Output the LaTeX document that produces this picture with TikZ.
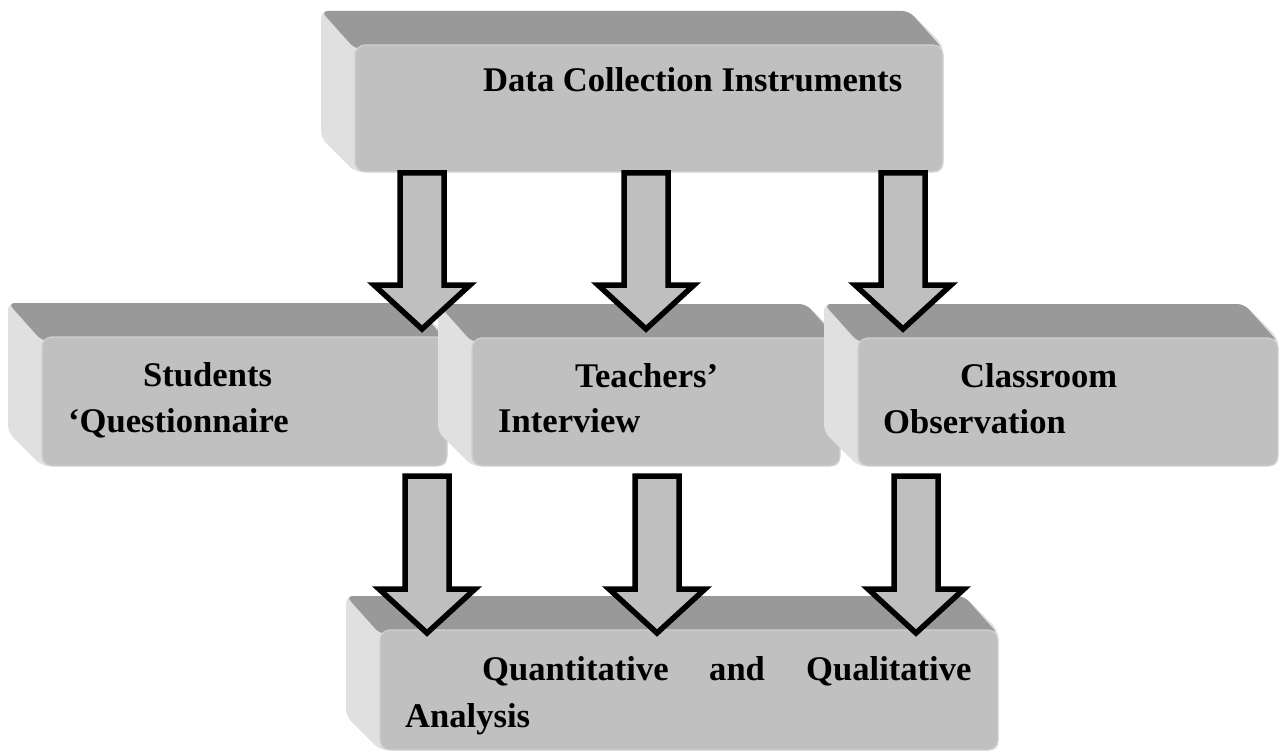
\documentclass[tikz,border=0pt]{standalone}
\usepackage{fontspec}
\setmainfont{Liberation Serif}
\usetikzlibrary{calc}
\definecolor{topface}{HTML}{999999}
\definecolor{sideface}{HTML}{E0E0E0}
\definecolor{frontface}{HTML}{C0C0C0}
\definecolor{frontedge}{HTML}{D0D0D0}
\definecolor{arrowfill}{HTML}{BFBFBF}
\tikzset{
  boxnode/.style={inner sep=0pt, outer sep=0pt, draw=none},
  sidefill/.style={fill=sideface, rounded corners=7pt},
  topfill/.style={fill=topface, rounded corners=7pt},
  frontfill/.style={fill=frontface, draw=frontedge, line width=1.2pt, rounded corners=10pt},
  lbl/.style={anchor=base west, inner sep=0pt, font=\bfseries\fontsize{34.6pt}{40pt}\selectfont},
  barrow/.style={draw=black, fill=arrowfill, line width=5.5pt, miter limit=10, line join=miter},
}
\newcommand\bevbox[5]{%
  \node[boxnode, minimum width={(#4-#2)*1pt}, minimum height={(#5-#3)*1pt}] (#1) at ({(#2+#4)/2},{(#3+#5)/2}) {};
  \fill[sidefill] ([shift={(-34pt,34pt)}]#1.north west) -- ([shift={(-34pt,34pt)}]#1.north east) -- (#1.north east) -- (#1.south east) -- (#1.south west) -- ([shift={(-34pt,34pt)}]#1.south west) -- cycle;
  \fill[topfill] ([shift={(-34pt,34pt)}]#1.north west) -- ([shift={(-34pt,34pt)}]#1.north east) -- ([shift={(0pt,-4pt)}]#1.north east) -- ([shift={(0pt,-4pt)}]#1.north west) -- cycle;
  \path[frontfill] (#1.north west) rectangle (#1.south east);
}
\newcommand\blockarrow[2]{%
  \draw[barrow] let \p1=(#1), \p2=(#2) in
    (\x1-22pt,\y1) -- (\x1+22pt,\y1) -- (\x1+22pt,\y2+44pt) -- (\x1+48pt,\y2+44pt)
    -- (\x1,\y2) -- (\x1-48pt,\y2+44pt) -- (\x1-22pt,\y2+44pt) -- cycle;
}
\begin{document}
\begin{tikzpicture}[x=1pt, y=-1pt]
\useasboundingbox (0,0) rectangle (1282,754);
% middle row
\bevbox{b1}{42}{337}{447}{466}
\bevbox{b2}{472}{338}{840}{466}
\bevbox{b3}{858}{338}{1278}{466}
% top box
\bevbox{top}{355}{45}{943}{172}
% bottom box
\bevbox{bot}{380}{630}{998}{750}
% labels
\node[lbl] (t0) at (483,92) {Data Collection Instruments};
\node[lbl] (t1a) at (143,386) {Students};
\node[lbl] (t1b) at (68,432) {‘Questionnaire};
\node[lbl] (t2a) at (575,387) {Teachers’};
\node[lbl] (t2b) at (498,432) {Interview};
\node[lbl] (t3a) at (960,387) {Classroom};
\node[lbl] (t3b) at (883,433) {Observation};
\node[lbl] (t4a) at (482,680) {Quantitative};
\node[lbl] (t4b) at (709,680) {and};
\node[lbl] (t4c) at (806,680) {Qualitative};
\node[lbl] (t4d) at (405,727) {Analysis};
% arrow anchors
\coordinate (a1s) at (422,173); \coordinate (a1e) at (422,329);
\coordinate (a2s) at (646,173); \coordinate (a2e) at (646,329);
\coordinate (a3s) at (903,173); \coordinate (a3e) at (903,329);
\coordinate (c1s) at (427,476); \coordinate (c1e) at (427,633);
\coordinate (c2s) at (657,476); \coordinate (c2e) at (657,633);
\coordinate (c3s) at (916,476); \coordinate (c3e) at (916,633);
\blockarrow{a1s}{a1e}
\blockarrow{a2s}{a2e}
\blockarrow{a3s}{a3e}
\blockarrow{c1s}{c1e}
\blockarrow{c2s}{c2e}
\blockarrow{c3s}{c3e}
\end{tikzpicture}
\end{document}
